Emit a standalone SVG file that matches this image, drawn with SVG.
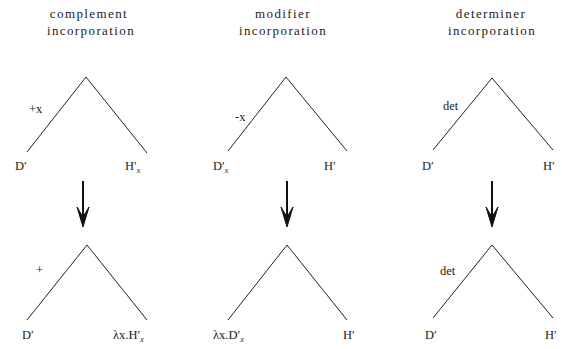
<svg xmlns="http://www.w3.org/2000/svg" width="562" height="349" viewBox="0 0 562 349" font-family="'Liberation Serif', 'DejaVu Serif', serif">
<style>
text{font-family:"Liberation Serif","DejaVu Serif",serif;fill:#222}
.t{font-size:13px;letter-spacing:1.4px;text-anchor:middle}
.l{font-size:12.5px}
.s{font-size:8px;font-style:italic}
.e{fill:none;stroke:#222;stroke-width:1}
.a{fill:none;stroke:#111;stroke-width:2}
.h{fill:#111;stroke:#111;stroke-width:1}
</style>
<rect width="562" height="349" fill="#fff"/>
<g id="titles">
<text class="t" x="89" y="18">complement</text>
<text class="t" x="91" y="35">incorporation</text>
<text class="t" x="283" y="18">modifier</text>
<text class="t" x="283" y="35">incorporation</text>
<text class="t" x="491" y="18">determiner</text>
<text class="t" x="492" y="35">incorporation</text>
</g>
<g id="connectors">
<polyline class="e" points="27,152 86,77 147,153"/>
<polyline class="e" points="228,151 286,77 347,151"/>
<polyline class="e" points="433,150 492,78 553,150"/>
<polyline class="e" points="27,320 87,245 147,320"/>
<polyline class="e" points="228,320 287,245 347,320"/>
<polyline class="e" points="433,318 492,245 553,318"/>
<line class="a" x1="83" y1="181" x2="83" y2="222"/>
<path class="h" d="M77,207 L83,227 L89,207 L83,217 Z"/>
<line class="a" x1="287" y1="181" x2="287" y2="222"/>
<path class="h" d="M281,207 L287,227 L293,207 L287,217 Z"/>
<line class="a" x1="492" y1="181" x2="492" y2="222"/>
<path class="h" d="M486,207 L492,227 L498,207 L492,217 Z"/>
</g>
<g id="tree1-top">
<text class="l" x="29" y="113">+x</text>
<text class="l" x="15" y="170">D′</text>
<text class="l" x="125" y="170">H′<tspan class="s" dy="3">x</tspan></text>
</g>
<g id="tree2-top">
<text class="l" x="235" y="121">-x</text>
<text class="l" x="213" y="170">D′<tspan class="s" dy="3">x</tspan></text>
<text class="l" x="324" y="170">H′</text>
</g>
<g id="tree3-top">
<text class="l" x="443" y="110">det</text>
<text class="l" x="422" y="170">D′</text>
<text class="l" x="543" y="170">H′</text>
</g>
<g id="tree1-bottom">
<text class="l" x="36" y="274">+</text>
<text class="l" x="22" y="339">D′</text>
<text class="l" x="113" y="339">λx.H′<tspan class="s" dy="3">x</tspan></text>
</g>
<g id="tree2-bottom">
<text class="l" x="213" y="339">λx.D′<tspan class="s" dy="3">x</tspan></text>
<text class="l" x="343" y="339">H′</text>
</g>
<g id="tree3-bottom">
<text class="l" x="440" y="275">det</text>
<text class="l" x="425" y="339">D′</text>
<text class="l" x="545" y="339">H′</text>
</g>
</svg>
